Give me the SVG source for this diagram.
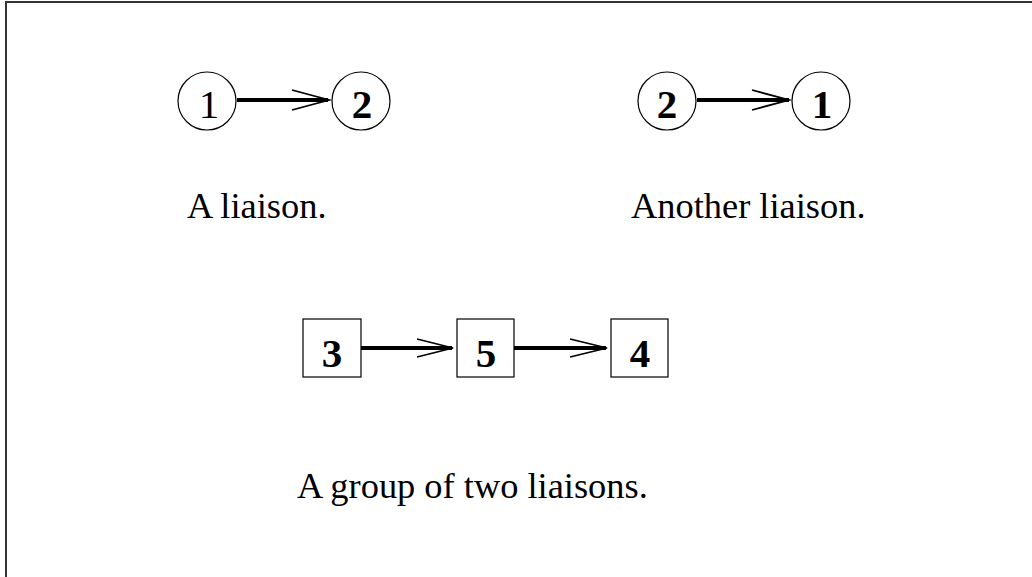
<svg xmlns="http://www.w3.org/2000/svg" width="1032" height="577" viewBox="0 0 1032 577">
  <style>
    .frame { fill: none; stroke: #333; stroke-width: 2; }
    .node { fill: #fff; stroke: #000; stroke-width: 1.2; }
    .num { font-family: "Liberation Serif", "Times New Roman", serif; font-size: 41px; text-anchor: middle; fill: #000; }
    .bold { font-weight: bold; }
    .caption { font-family: "Liberation Serif", "Times New Roman", serif; font-size: 36.4px; fill: #000; }
    .edge { stroke: #000; stroke-width: 3.8; fill: none; }
    .head { stroke: #000; stroke-width: 1.8; fill: none; }
  </style>
  <rect width="1032" height="577" fill="#fff"/>
  <rect class="frame" x="6" y="2" width="1040" height="590"/>

  <g id="connectors">
    <line class="edge" x1="237" y1="100" x2="328" y2="100"/>
    <polyline class="head" points="292,90 329,100 292,110"/>
    <line class="edge" x1="697" y1="100" x2="789" y2="100"/>
    <polyline class="head" points="752,90 789,100 752,110"/>
    <line class="edge" x1="361" y1="348" x2="452" y2="348"/>
    <polyline class="head" points="417,339 453,348 417,357"/>
    <line class="edge" x1="514" y1="348" x2="606" y2="348"/>
    <polyline class="head" points="570,339 607,348 570,357"/>
  </g>

  <g id="n1a">
    <circle class="node" cx="207" cy="101" r="29"/>
    <text class="num" x="209" y="118">1</text>
  </g>
  <g id="n2a">
    <circle class="node" cx="361" cy="101" r="29"/>
    <text class="num bold" x="362" y="118">2</text>
  </g>
  <g id="n2b">
    <circle class="node" cx="667" cy="101" r="29"/>
    <text class="num bold" x="667" y="118">2</text>
  </g>
  <g id="n1b">
    <circle class="node" cx="821" cy="101" r="29"/>
    <text class="num bold" x="822" y="118">1</text>
  </g>

  <g id="n3">
    <rect class="node" x="303" y="319" width="58" height="58"/>
    <text class="num bold" x="332" y="367">3</text>
  </g>
  <g id="n5">
    <rect class="node" x="457" y="319" width="57" height="58"/>
    <text class="num bold" x="486" y="367">5</text>
  </g>
  <g id="n4">
    <rect class="node" x="611" y="319" width="57" height="58"/>
    <text class="num bold" x="640" y="367">4</text>
  </g>

  <text class="caption" x="187" y="218">A liaison.</text>
  <text class="caption" x="631" y="218">Another liaison.</text>
  <text class="caption" x="297" y="498">A group of two liaisons.</text>
</svg>
